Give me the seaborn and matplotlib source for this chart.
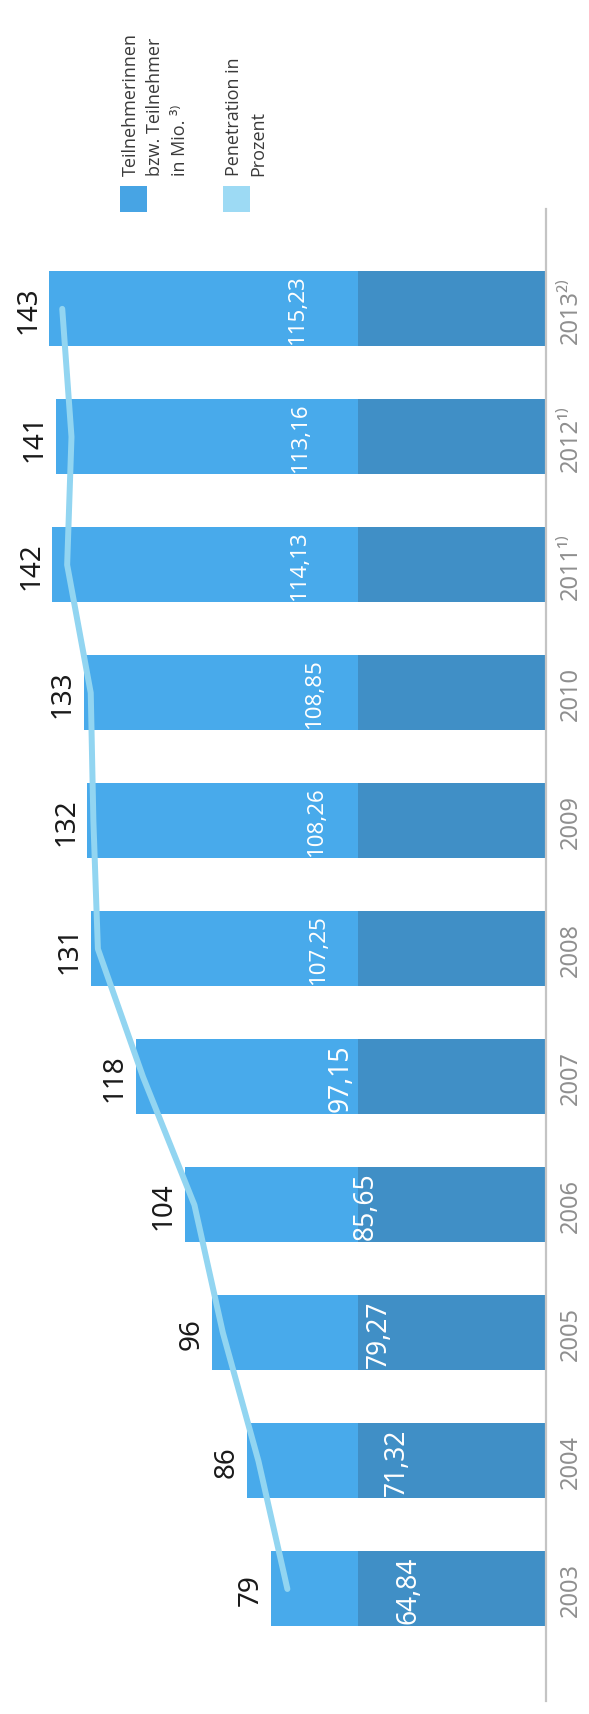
import numpy as np
import pandas as pd
import matplotlib
matplotlib.use("Agg")
import matplotlib.pyplot as plt
from matplotlib.patches import Rectangle
import seaborn as sns

# Mobile subscribers (millions) and penetration (percent), 2003-2013
years = ["2003", "2004", "2005", "2006", "2007", "2008", "2009", "2010",
         "2011¹⁾", "2012¹⁾", "2013²⁾"]
subscribers = [79, 86, 96, 104, 118, 131, 132, 133, 142, 141, 143]
penetration = [64.84, 71.32, 79.27, 85.65, 97.15, 107.25, 108.26, 108.85,
               114.13, 113.16, 115.23]

legend_labels = ["Teilnehmerinnen\nbzw. Teilnehmer\nin Mio. ³⁾",
                 "Penetration in\nProzent"]

# darker base section drawn at the foot of every bar (in million units)
DARK_BASE = 54

LIGHT = "#48aaeb"
DARK = "#408fc6"
LINE = "#92d5f1"
LEGEND_SQ = ["#47a4e4", "#9ddaf4"]

sns.set_style("white")
plt.rcParams["font.family"] = ["Noto Sans", "DejaVu Sans"]

W, H = 589, 1715
fig = plt.figure(figsize=(W / 100, H / 100), dpi=100)
ax = fig.add_axes([0, 1 - 1702 / H, 546 / W, (1702 - 210) / H])

df = pd.DataFrame({"year": years, "subs": subscribers, "pen": penetration})
df["base"] = np.minimum(df["subs"], DARK_BASE)
order = years[::-1]  # newest year at the top
df["pos"] = [order.index(y) for y in df["year"]]

bar_w = 0.586
sns.barplot(data=df, x="subs", y="year", order=order, orient="h",
            color=LIGHT, saturation=1, width=bar_w, linewidth=0,
            edgecolor="none", ax=ax)
sns.barplot(data=df, x="base", y="year", order=order, orient="h",
            color=DARK, saturation=1, width=bar_w, linewidth=0,
            edgecolor="none", ax=ax)

# penetration line on its own horizontal scale
ax2 = ax.twiny()
sns.lineplot(x=df["pen"].values, y=df["pos"].values, sort=False, orient="y",
             color=LINE, linewidth=4.3, solid_capstyle="round",
             ax=ax2, legend=False)

ax.set_xlim(157.1, 0)
ax2.set_xlim(129.16, 6.96)
ax.set_ylim(10.875, -0.78)

# value labels
for _, r in df.iterrows():
    ax.annotate(f"{r['subs']:d}", xy=(r["subs"], r["pos"]),
                xytext=(-5, 0), textcoords="offset points",
                ha="right", va="center", rotation=90,
                fontsize=20, color="#1a1a1a")
    txt = f"{r['pen']:.2f}".replace(".", ",")
    ax.text(r["subs"] / 2, r["pos"], txt,
            ha="center", va="center", rotation=90,
            fontsize=19 if len(txt) <= 5 else 16, color="white")

# year labels to the right of the baseline
ax.yaxis.tick_right()
ax.set_yticks(range(len(order)))
ax.set_yticklabels(order, rotation=90, va="center")
ax.tick_params(axis="y", length=0, pad=9, labelsize=17,
               labelcolor="#8f8f8f")
ax.set_xticks([])
ax.set_xlabel("")
ax.set_ylabel("")
ax2.set_xticks([])
ax2.set_xlabel("")
ax2.set_ylabel("")

for name, sp in ax.spines.items():
    sp.set_visible(name == "right")
ax.spines["right"].set_color("#c4c4c4")
ax.spines["right"].set_linewidth(1.6)
for sp in ax2.spines.values():
    sp.set_visible(False)

# legend: colour squares with rotated captions
for sx, tx, lab, col in zip([120, 223], [122, 225], legend_labels, LEGEND_SQ):
    fig.patches.append(Rectangle((sx / W, 1 - 213 / H), 27 / W, 26 / H,
                                 transform=fig.transFigure, color=col,
                                 linewidth=0))
    fig.text(tx / W, 1 - 176 / H, lab, rotation=90, ha="left", va="bottom",
             multialignment="left", fontsize=13, color="#3a3a3a",
             linespacing=1.45, family=["Open Sans", "DejaVu Sans"])

fig.savefig("out.png", dpi=100)
